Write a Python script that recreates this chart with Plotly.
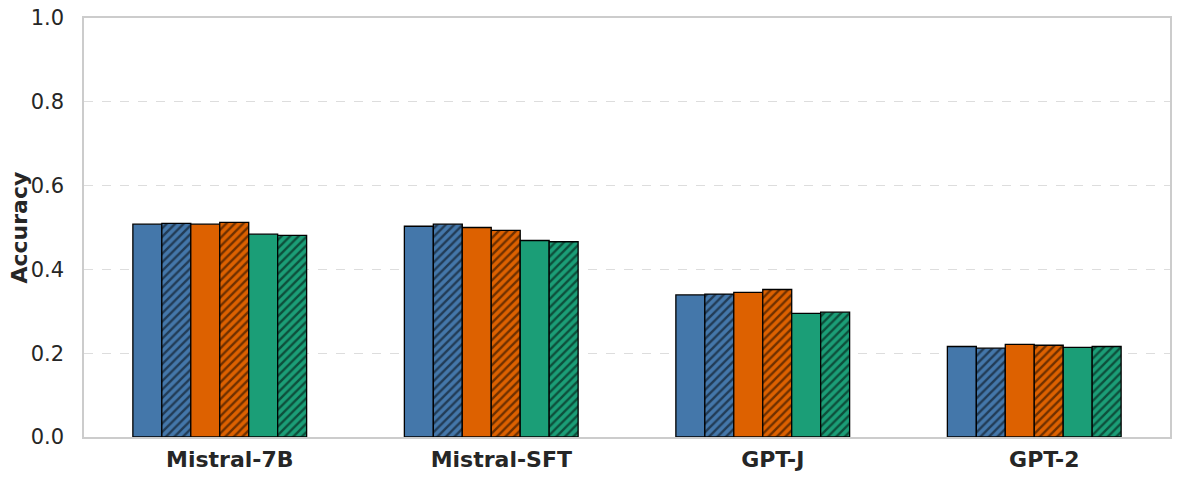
import plotly.graph_objects as go

categories = ["Mistral-7B", "Mistral-SFT", "GPT-J", "GPT-2"]

series_names = ["Blue", "Blue (hatched)", "Orange", "Orange (hatched)", "Green", "Green (hatched)"]
series_values = [
    [0.508, 0.503, 0.339, 0.216],
    [0.510, 0.508, 0.341, 0.212],
    [0.508, 0.500, 0.345, 0.221],
    [0.512, 0.493, 0.352, 0.219],
    [0.484, 0.469, 0.295, 0.214],
    [0.481, 0.466, 0.298, 0.216],
]
series_colors = ["#4477AA", "#4477AA", "#DD6100", "#DD6100", "#1B9E77", "#1B9E77"]
series_hatched = [False, True, False, True, False, True]

y_ticks = [0.0, 0.2, 0.4, 0.6, 0.8, 1.0]
y_title = "Accuracy"

positions = list(range(len(categories)))
tick_shift = 0.037  # tick labels sit slightly right of group centre, as in the reference

fig = go.Figure()
for name, vals, col, hatch in zip(series_names, series_values, series_colors, series_hatched):
    marker = dict(color=col, line=dict(color="black", width=1.3))
    if hatch:
        marker["pattern"] = dict(shape="/", fgcolor="black", bgcolor=col, size=6, solidity=0.4)
    fig.add_trace(go.Bar(x=positions, y=vals, name=name, marker=marker))

fig.update_layout(
    width=1180, height=480,
    barmode="group", bargap=0.36, bargroupgap=0,
    showlegend=False,
    plot_bgcolor="white", paper_bgcolor="white",
    margin=dict(l=84, r=10, t=18, b=43, autoexpand=False),
    font=dict(family="DejaVu Sans", color="#262626"),
)
fig.add_annotation(
    text=y_title, textangle=-90, showarrow=False,
    xref="paper", yref="paper", x=0, y=0.5, xanchor="center", yanchor="middle",
    xshift=-65,
    font=dict(size=22, family="DejaVu Sans", weight="bold", color="#262626"),
)
fig.update_xaxes(
    range=[-0.5, len(categories) - 0.5],
    tickvals=[p + tick_shift for p in positions], ticktext=categories,
    showline=True, mirror=True, linecolor="#cccccc", linewidth=1.5,
    showgrid=False, zeroline=False, ticks="", automargin=False, ticklabelstandoff=2,
    tickfont=dict(size=22, family="DejaVu Sans", weight="bold", color="#262626"),
)
fig.update_yaxes(
    range=[0, 1.0], tickvals=y_ticks, tickformat=".1f",
    showline=True, mirror=True, linecolor="#cccccc", linewidth=1.5,
    showgrid=True, gridcolor="#dddddd", griddash="dash", gridwidth=1,
    zeroline=False, ticks="", ticklabelstandoff=14, automargin=False,
    tickfont=dict(size=21, family="DejaVu Sans", color="#262626"),
)

fig.write_html(
    "out.html",
    config={"displayModeBar": False},
    post_script="document.body.style.margin='0';document.body.style.overflow='hidden';",
)
